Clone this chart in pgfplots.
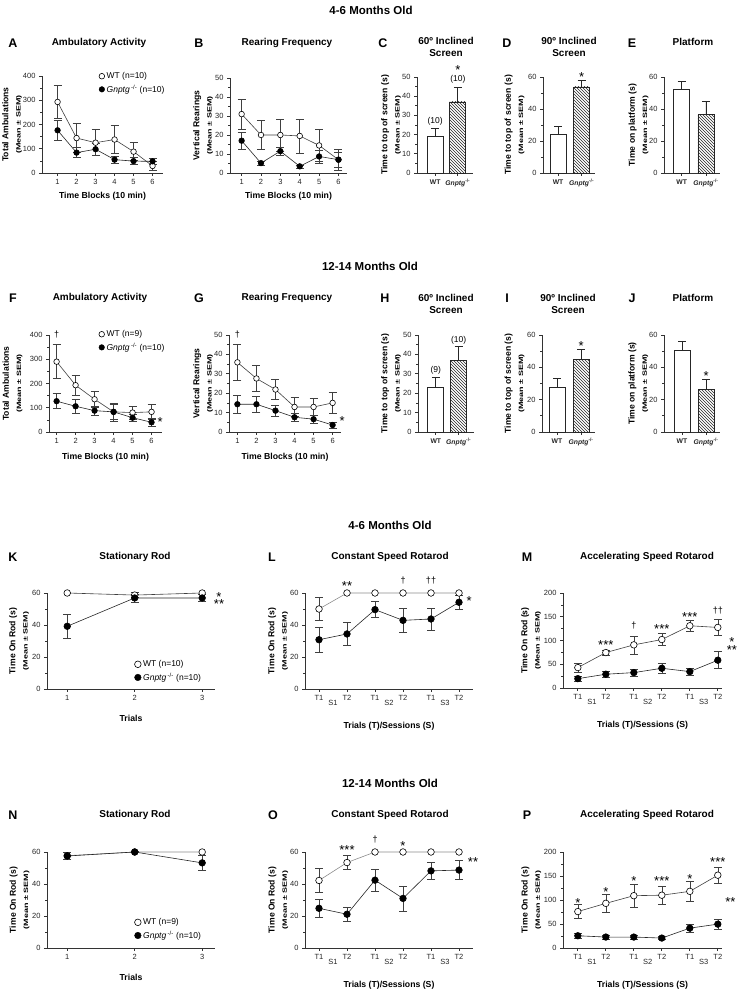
\documentclass[border=0pt]{standalone}
\usepackage{graphicx}
\usepackage{pgfplots}
\pgfplotsset{compat=1.18}
\usepackage{fontspec}
\setmainfont{Liberation Sans}
\usetikzlibrary{patterns}
\newcommand{\fs}[1]{\fontsize{#1}{#1}\selectfont}
\newcommand{\yl}[1]{#1\\[3.5pt]\scalebox{1.45}[1]{\fs{6.2}(Mean ± SEM)}}
\newcommand{\ko}{\textit{Gnptg}\,\textsuperscript{-/-}}
\newcommand{\stk}[1]{\rlap{\raisebox{#1}[0pt][0pt]{\hspace{2.5pt}*}}**}
\tikzset{
  star/.style={font=\fs{13}, inner sep=0pt, text height=3pt, text depth=0pt, yshift=-6pt},
  stack/.style={font=\fs{13}, inner sep=0pt, align=center, anchor=south},
  dag/.style={font=\fs{9}, inner sep=0pt},
  nlab/.style={font=\fs{8.5}, inner sep=0pt},
  ptitle/.style={font=\bfseries\fs{10}, align=center},
  letter/.style={font=\bfseries\fs{12.5}},
  rtitle/.style={font=\bfseries\fs{11.5}},
}
\pgfplotsset{
  base/.style={
    scale only axis, anchor=south west, clip=false,
    axis x line*=bottom, axis y line*=left,
    axis line style={-, draw=black!80, line width=0.8pt},
    tick align=outside,
    major tick length=3pt, minor tick length=1.8pt,
    every tick/.style={draw=black!80, line width=0.7pt},
    tick label style={font=\fs{7.5}, text=black!85},
    /pgf/number format/assume math mode=true,
    ymin=0, minor y tick num=1,
  },
  ysh/.style={every axis y label/.style={at={([xshift=-#1pt]axis description cs:0,0.5)}, rotate=90, anchor=center, font=\bfseries\fs{8.6}, align=center}},
  xsh/.style={every axis x label/.style={at={([yshift=-#1pt]axis description cs:0.5,0)}, anchor=center, font=\bfseries\fs{8.7}}},
  eb/.style={error bars/y dir=both, error bars/y explicit, error bars/error bar style={black!75, line width=0.6pt}, error bars/error mark options={rotate=90, black!75, line width=0.6pt, mark size=#1pt}},
  ebp/.style={error bars/y dir=plus, error bars/y explicit, error bars/error bar style={black!85, line width=0.7pt}, error bars/error mark options={rotate=90, black!85, line width=0.7pt, mark size=#1pt}},
  wt/.style={black!75, line width=0.6pt, mark=*, mark size=#1pt, mark options={fill=white, draw=black, line width=0.6pt}},
  wtg/.style={black!45, line width=0.6pt, mark=*, mark size=#1pt, mark options={fill=white, draw=black, line width=0.6pt}},
  kop/.style={black!85, line width=0.6pt, mark=*, mark size=#1pt, mark options={fill=black, draw=black}},
  wtm/.style={only marks, mark=*, mark size=#1pt, mark options={fill=white, draw=black, line width=0.6pt}},
  kom/.style={only marks, mark=*, mark size=#1pt, mark options={fill=black, draw=black}},
  ebonly/.style={only marks, mark=none, forget plot},
  leg/.style={legend style={draw=none, fill=none, at={#1}, anchor=north west, font=\fs{8.5}, inner sep=0pt, row sep=1pt, cells={anchor=west}}, legend image code/.code={\draw[##1] plot coordinates {(3pt,0pt)};}},
  barax/.style={base, xtick={1,2}, xticklabels={\textbf{WT},\textbf{\textit{Gnptg}\textsuperscript{-/-}}}, x tick label style={font=\fs{6.8}}},
  wtbar/.style={ybar, bar width=16pt, fill=white, draw=black!85, line width=0.7pt, ebp=4},
  kobar/.style={ybar, bar width=16pt, pattern=north west lines, pattern color=black!85, draw=black!85, line width=0.7pt, ebp=4},
  rot/.style={base, xtick={1,...,6}, xticklabels={T1,T2,T1,T2,T1,T2}, extra x ticks={1.5,3.5,5.5}, extra x tick labels={S1,S2,S3}, extra x tick style={major tick length=0pt, xticklabel style={yshift=-8pt}}, xlabel={Trials (T)/Sessions (S)}, xsh=37},
}
\begin{document}
\begin{tikzpicture}[x=1pt,y=1pt]
\useasboundingbox (0,0) rectangle (742,993);
% ---------- headings ----------
\node[rtitle] at (371,983) {4-6 Months Old};
\node[rtitle] at (370,727) {12-14 Months Old};
\node[rtitle] at (390,468) {4-6 Months Old};
\node[rtitle] at (390,210) {12-14 Months Old};
% row 1
\node[letter] at (13,950) {A};
\node[letter] at (199,950) {B};
\node[letter] at (383,950) {C};
\node[letter] at (507,950) {D};
\node[letter] at (632,950) {E};
\node[ptitle] at (99,950) {Ambulatory Activity};
\node[ptitle] at (287,950) {Rearing Frequency};
\node[ptitle] at (446,946) {60º Inclined\\[2.5pt]Screen};
\node[ptitle] at (569,946) {90º Inclined\\[2.5pt]Screen};
\node[ptitle] at (693,951) {Platform};
% row 2
\node[letter] at (13,695) {F};
\node[letter] at (199,695) {G};
\node[letter] at (385,695) {H};
\node[letter] at (507,695) {I};
\node[letter] at (632,695) {J};
\node[ptitle] at (100,695) {Ambulatory Activity};
\node[ptitle] at (287,695) {Rearing Frequency};
\node[ptitle] at (446,689) {60º Inclined\\[2.5pt]Screen};
\node[ptitle] at (568,689) {90º Inclined\\[2.5pt]Screen};
\node[ptitle] at (693,695) {Platform};
% row 3
\node[letter] at (13,436) {K};
\node[letter] at (272,436) {L};
\node[letter] at (527,436) {M};
\node[ptitle] at (135,436) {Stationary Rod};
\node[ptitle] at (390,436) {Constant Speed Rotarod};
\node[ptitle] at (647,436) {Accelerating Speed Rotarod};
% row 4
\node[letter] at (13,178) {N};
\node[letter] at (273,178) {O};
\node[letter] at (527,178) {P};
\node[ptitle] at (135,178) {Stationary Rod};
\node[ptitle] at (390,178) {Constant Speed Rotarod};
\node[ptitle] at (647,178) {Accelerating Speed Rotarod};

% ---------- A ----------
\begin{axis}[base, at={(42pt,820pt)}, width=121pt, height=97pt, xmin=0.18, xmax=6.55, ymax=400,
  ytick={0,100,...,400}, xtick={1,...,6}, ylabel={\yl{Total Ambulations}}, xlabel={Time Blocks (10 min)}, ysh=30, xsh=23, leg={(0.47,1.06)}]
\addlegendimage{wtm=2.8}\addlegendentry{WT (n=10)}
\addlegendimage{kom=2.8}\addlegendentry{\ko\ (n=10)}
\addplot[wt=2.8, eb=4, forget plot] coordinates {(1,293) +- (0,68) (2,144) +- (0,60) (3,125) +- (0,54) (4,138) +- (0,58) (5,88) +- (0,37) (6,29) +- (0,18)};
\addplot[kop=2.8, eb=4, forget plot] coordinates {(1,176) +- (0,41) (2,84) +- (0,20) (3,98) +- (0,25) (4,55) +- (0,14) (5,49) +- (0,14) (6,48) +- (0,14)};
\end{axis}
% ---------- B ----------
\begin{axis}[base, at={(230pt,820pt)}, width=117pt, height=95pt, xmin=0.4, xmax=6.44, ymax=50,
  ytick={0,10,...,50}, xtick={1,...,6}, ylabel={\yl{Vertical Rearings}}, xlabel={Time Blocks (10 min)}, ysh=27, xsh=23]
\addplot[wt=2.8, eb=4] coordinates {(1,31) +- (0,8) (2,20) +- (0,7.5) (3,20) +- (0,8.5) (4,19.5) +- (0,9) (5,14.5) +- (0,8.5) (6,7) +- (0,5.5)};
\addplot[kop=2.8, eb=4] coordinates {(1,17) +- (0,4.5) (2,5.2) +- (0,1) (3,11.5) +- (0,2.2) (4,3.5) +- (0,0.8) (5,8.7) +- (0,3.5) (6,7) +- (0,4)};
\end{axis}
% ---------- C ----------
\begin{axis}[barax, at={(417pt,820pt)}, width=56pt, height=96pt, xmin=0.2, xmax=2.67, ymax=50,
  ytick={0,10,...,50}, ylabel={\yl{Time to top of screen (s)}}, ysh=26]
\addplot[wtbar] coordinates {(1,19.3) +- (0,3.7)};
\addplot[kobar] coordinates {(2,37) +- (0,7.7)};
\node[nlab] at (axis cs:1,27.1) {(10)};
\node[stack, yshift=-4pt] at (axis cs:2,48.6) {*\\[-6pt]{\fs{8.5}(10)}};
\end{axis}
% ---------- D ----------
\begin{axis}[barax, at={(543pt,820pt)}, width=52pt, height=96pt, xmin=0.36, xmax=2.57, ymax=60,
  ytick={0,20,40,60}, ylabel={\yl{Time to top of screen (s)}}, ysh=28.5]
\addplot[wtbar] coordinates {(1,24.2) +- (0,4.8)};
\addplot[kobar] coordinates {(2,53.8) +- (0,4)};
\node[star] at (axis cs:2,61.7) {*};
\end{axis}
% ---------- E ----------
\begin{axis}[barax, at={(664pt,820pt)}, width=56pt, height=96pt, xmin=0.27, xmax=2.58, ymax=60,
  ytick={0,20,40,60}, ylabel={\yl{Time on platform (s)}}, ysh=25.5]
\addplot[wtbar] coordinates {(1,52.4) +- (0,4.6)};
\addplot[kobar] coordinates {(2,36.6) +- (0,8.4)};
\end{axis}

% ---------- F ----------
\begin{axis}[base, at={(49pt,561pt)}, width=113pt, height=97pt, xmin=0.6, xmax=6.55, ymax=400,
  ytick={0,100,...,400}, xtick={1,...,6}, ylabel={\yl{Total Ambulations}}, xlabel={Time Blocks (10 min)}, ysh=36.5, xsh=25, leg={(0.44,1.07)}]
\addlegendimage{wtm=2.8}\addlegendentry{WT (n=9)}
\addlegendimage{kom=2.8}\addlegendentry{\ko\ (n=10)}
\addplot[wt=2.8, eb=4, forget plot] coordinates {(1,290) +- (0,70) (2,193) +- (0,41) (3,135) +- (0,33) (4,83) +- (0,37) (5,80) +- (0,27) (6,83) +- (0,31)};
\addplot[kop=2.8, eb=4, forget plot] coordinates {(1,127) +- (0,31) (2,106) +- (0,27) (3,88) +- (0,20) (4,83) +- (0,30) (5,59) +- (0,15) (6,40) +- (0,15)};
\node[dag] at (axis cs:1,400) {†};
\node[star] at (axis cs:6.45,55) {*};
\end{axis}
% ---------- G ----------
\begin{axis}[base, at={(229pt,561pt)}, width=112pt, height=97pt, xmin=0.56, xmax=6.44, ymax=50,
  ytick={0,10,...,50}, xtick={1,...,6}, ylabel={\yl{Vertical Rearings}}, xlabel={Time Blocks (10 min)}, ysh=26, xsh=25]
\addplot[wt=2.8, eb=4] coordinates {(1,35.9) +- (0,9.3) (2,27.6) +- (0,6.7) (3,21.9) +- (0,5.2) (4,12.9) +- (0,5) (5,12.9) +- (0,4.5) (6,15) +- (0,5.3)};
\addplot[kop=2.8, eb=4] coordinates {(1,14.3) +- (0,4.5) (2,14.3) +- (0,4) (3,11) +- (0,3) (4,7.6) +- (0,2) (5,6.6) +- (0,2) (6,3.6) +- (0,1.5)};
\node[dag] at (axis cs:1,50) {†};
\node[star] at (axis cs:6.5,7) {*};
\end{axis}
% ---------- H ----------
\begin{axis}[barax, at={(418pt,561pt)}, width=56pt, height=97pt, xmin=0.22, xmax=2.67, ymax=50,
  ytick={0,10,...,50}, ylabel={\yl{Time to top of screen (s)}}, ysh=27]
\addplot[wtbar] coordinates {(1,22.8) +- (0,5.2)};
\addplot[kobar] coordinates {(2,37.1) +- (0,6.9)};
\node[nlab] at (axis cs:1,32) {(9)};
\node[nlab] at (axis cs:2,47.2) {(10)};
\end{axis}
% ---------- I ----------
\begin{axis}[barax, at={(542pt,561pt)}, width=53pt, height=97pt, xmin=0.375, xmax=2.58, ymax=60,
  ytick={0,20,40,60}, ylabel={\yl{Time to top of screen (s)}}, ysh=27.5]
\addplot[wtbar] coordinates {(1,27.5) +- (0,5.6)};
\addplot[kobar] coordinates {(2,45.1) +- (0,6)};
\node[star] at (axis cs:2,55) {*};
\end{axis}
% ---------- J ----------
\begin{axis}[barax, at={(664pt,561pt)}, width=56pt, height=97pt, xmin=0.25, xmax=2.58, ymax=60,
  ytick={0,20,40,60}, ylabel={\yl{Time on platform (s)}}, ysh=25.7]
\addplot[wtbar] coordinates {(1,50.7) +- (0,5.6)};
\addplot[kobar] coordinates {(2,26.3) +- (0,6.4)};
\node[star] at (axis cs:2,36.5) {*};
\end{axis}

% ---------- K ----------
\begin{axis}[base, at={(47pt,304pt)}, width=168pt, height=96pt, xmin=0.7, xmax=3.19, ymax=60,
  ytick={0,20,40,60}, xtick={1,2,3}, ylabel={\yl{Time On Rod (s)}}, xlabel={Trials}, ysh=28, xsh=29, leg={(0.52,0.32)}]
\addlegendimage{wtm=3.3}\addlegendentry{WT (n=10)}
\addlegendimage{kom=3.3}\addlegendentry{\ko\ (n=10)}
\addplot[ebonly, eb=4] coordinates {(2,58.7) +- (0,1.5)};
\addplot[wt=3.3, forget plot] coordinates {(1,60) (2,58.7) (3,60)};
\addplot[kop=3.3, eb=4, forget plot] coordinates {(1,39.2) +- (0,7.3) (2,56.9) +- (0,2.5) (3,56.9) +- (0,2)};
\node[star] at (axis cs:3.25,55) {\stk{7pt}};
\end{axis}
% ---------- L ----------
\begin{axis}[rot, at={(305pt,304pt)}, width=168pt, height=96pt, xmin=0.5, xmax=6.5, ymax=60,
  ytick={0,20,40,60}, ylabel={\yl{Time On Rod (s)}}, ysh=27]
\addplot[ebonly, eb=4] coordinates {(1,50) +- (0,7)};
\addplot[wtg=3.3] coordinates {(1,50) (2,60) (3,60) (4,60) (5,60) (6,60)};
\addplot[kop=3.3, eb=4] coordinates {(1,30.8) +- (0,8) (2,34.4) +- (0,7) (3,49.6) +- (0,5) (4,42.9) +- (0,7.7) (5,43.75) +- (0,6.9) (6,54.2) +- (0,4.5)};
\node[star] at (axis cs:2,66.2) {**};
\node[dag] at (axis cs:4,67.5) {†};
\node[dag] at (axis cs:5,67.5) {††};
\node[star] at (axis cs:6.36,57) {*};
\end{axis}
% ---------- M ----------
\begin{axis}[rot, at={(563pt,305pt)}, width=159pt, height=95pt, xmin=0.47, xmax=6.15, ymax=200,
  ytick={0,50,...,200}, ylabel={\yl{Time On Rod (s)}}, ysh=32]
\addplot[wt=3.3, eb=4] coordinates {(1,43) +- (0,10) (2,74.6) +- (0,5) (3,90.8) +- (0,19) (4,102) +- (0,13) (5,131) +- (0,12) (6,127.5) +- (0,17)};
\addplot[kop=3.3, eb=4] coordinates {(1,19.7) +- (0,5) (2,29) +- (0,7) (3,32.4) +- (0,8) (4,41.5) +- (0,10) (5,34.5) +- (0,7) (6,58.5) +- (0,18)};
\node[star] at (axis cs:2,96) {***};
\node[dag] at (axis cs:3,132) {†};
\node[star] at (axis cs:4,131) {***};
\node[star] at (axis cs:5,156) {***};
\node[dag] at (axis cs:6,163) {††};
\node[star] at (axis cs:6.5,86) {\stk{8pt}};
\end{axis}

% ---------- N ----------
\begin{axis}[base, at={(47pt,45pt)}, width=168pt, height=96pt, xmin=0.7, xmax=3.19, ymax=60,
  ytick={0,20,40,60}, xtick={1,2,3}, ylabel={\yl{Time On Rod (s)}}, xlabel={Trials}, ysh=27.5, xsh=29, leg={(0.52,0.33)}]
\addlegendimage{wtm=3.3}\addlegendentry{WT (n=9)}
\addlegendimage{kom=3.3}\addlegendentry{\ko\ (n=10)}
\addplot[ebonly, eb=4] coordinates {(1,57.7) +- (0,2)};
\addplot[wtg=3.3, forget plot] coordinates {(1,57.7) (2,60) (3,60)};
\addplot[kop=3.3, eb=4, forget plot] coordinates {(1,57.5) +- (0,2) (2,60) +- (0,0.5) (3,53.2) +- (0,4.6)};
\end{axis}
% ---------- O ----------
\begin{axis}[rot, at={(305pt,45pt)}, width=168pt, height=96pt, xmin=0.5, xmax=6.5, ymax=60,
  ytick={0,20,40,60}, ylabel={\yl{Time On Rod (s)}}, ysh=26.7]
\addplot[ebonly, eb=4] coordinates {(1,42.2) +- (0,7.5) (2,53.4) +- (0,4.3)};
\addplot[wtg=3.3] coordinates {(1,42.2) (2,53.4) (3,60) (4,60) (5,60) (6,60)};
\addplot[kop=3.3, eb=4] coordinates {(1,24.8) +- (0,5.7) (2,21.1) +- (0,4.5) (3,42.4) +- (0,6.7) (4,31) +- (0,7.8) (5,48.2) +- (0,5.2) (6,48.7) +- (0,5.8)};
\node[star] at (axis cs:2,63) {***};
\node[dag] at (axis cs:3,68) {†};
\node[star] at (axis cs:4,65.5) {*};
\node[star] at (axis cs:6.5,55.5) {**};
\end{axis}
% ---------- P ----------
\begin{axis}[rot, at={(563pt,45pt)}, width=159pt, height=96pt, xmin=0.47, xmax=6.15, ymax=200,
  ytick={0,50,...,200}, ylabel={\yl{Time On Rod (s)}}, ysh=31.7]
\addplot[wt=3.3, eb=4] coordinates {(1,75.9) +- (0,15) (2,93) +- (0,18) (3,109) +- (0,24) (4,110) +- (0,19) (5,118) +- (0,20) (6,151.7) +- (0,16)};
\addplot[kop=3.3, eb=4] coordinates {(1,25.5) +- (0,5) (2,22.8) +- (0,4) (3,22.8) +- (0,4) (4,20.7) +- (0,3) (5,41.4) +- (0,8) (6,49.7) +- (0,10)};
\node[star] at (axis cs:1,101) {*};
\node[star] at (axis cs:2,123) {*};
\node[star] at (axis cs:3,146) {*};
\node[star] at (axis cs:4,146) {***};
\node[star] at (axis cs:5,150) {*};
\node[star] at (axis cs:6,185) {***};
\node[star] at (axis cs:6.45,102) {**};
\end{axis}
\end{tikzpicture}
\end{document}
